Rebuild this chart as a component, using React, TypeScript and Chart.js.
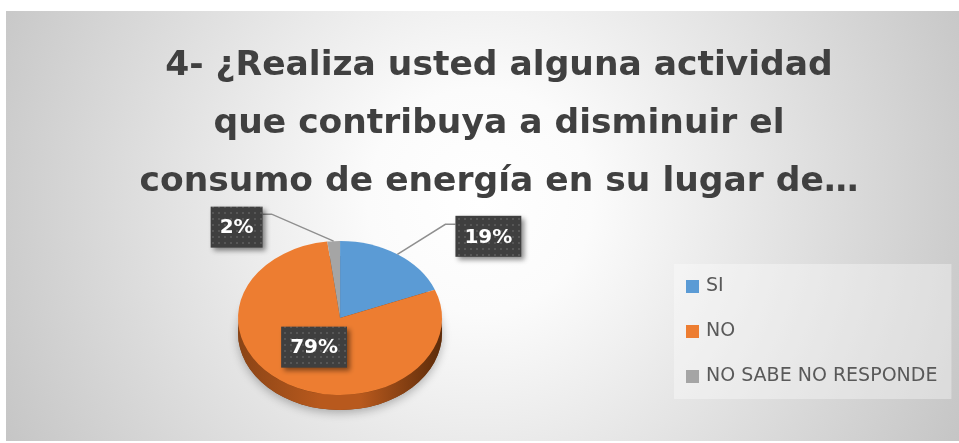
import React, { useEffect, useRef } from "react";
import { Chart, registerables } from "chart.js";

Chart.register(...registerables);

// ---- data ----
const titleLines = [
  "4- ¿Realiza usted alguna actividad",
  "que contribuya a disminuir el",
  "consumo de energía en su lugar de…",
];
const categories = ["SI", "NO", "NO SABE NO RESPONDE"];
const percentages = [19, 79, 2];

// ---- style ----
const sliceColors = ["#5B9BD5", "#ED7D31", "#A5A5A5"];
const sideColors = [
  ["#2c5a86", "#4a86bf", "#1f4266"],
  ["#8a4416", "#b8591d", "#5c2b0a"],
  ["#5a5a5a", "#7f7f7f", "#444444"],
];
const FONT = "'DejaVu Sans'";
const LEGEND_SIZE = 19;
const LEGEND_PAD = 26;
const TILT = 0.755;
const DEPTH = 15;
// label placement relative to the slice anchor point (style only)
const labelPlacement = [
  { radial: 1, elbow: [48, -30], box: [91, -18] },
  { radial: 0.5, elbow: null, box: [0, -4] },
  { radial: 1, elbow: [-62, -27], box: [-97, -14] },
];

function makePattern(ctx: CanvasRenderingContext2D) {
  const c = document.createElement("canvas");
  c.width = 6;
  c.height = 6;
  const p = c.getContext("2d")!;
  p.fillStyle = "#3f3f3f";
  p.fillRect(0, 0, 6, 6);
  p.fillStyle = "#565656";
  p.fillRect(2, 2, 2, 2);
  return ctx.createPattern(c, "repeat")!;
}

function makeMarker(color: string, w: number) {
  const c = document.createElement("canvas");
  c.width = w;
  c.height = 13;
  const p = c.getContext("2d")!;
  p.fillStyle = color;
  p.fillRect(w - 13, 0, 13, 13);
  return c;
}

const pie3dPlugin = {
  id: "pie3d",
  beforeDraw(chart: any) {
    const { ctx, width, height } = chart;
    ctx.save();
    ctx.fillStyle = "#ffffff";
    ctx.fillRect(0, 0, width, height);
    const g = ctx.createRadialGradient(480, 200, 0, 480, 200, 560);
    g.addColorStop(0, "#ffffff");
    g.addColorStop(0.2, "#fbfbfb");
    g.addColorStop(1, "#c2c2c2");
    ctx.fillStyle = g;
    ctx.fillRect(6, 11, width - 6, 430);
    const lg = chart.legend;
    if (lg && lg.legendHitBoxes && lg.legendHitBoxes.length) {
      const hb = lg.legendHitBoxes;
      const first = hb[0];
      const last = hb[hb.length - 1];
      const W = lg.options.labels.pointStyleWidth;
      const x0 = first.left + W + 2.5 - 13 - 12;
      const y0 = first.top - 12.5;
      const y1 = last.top + last.height + 13.5;
      let right = 0;
      hb.forEach((h: any) => (right = Math.max(right, h.left + h.width)));
      right += 14;
      ctx.fillStyle = "rgba(255,255,255,0.35)";
      ctx.fillRect(x0, y0, right - x0, y1 - y0);
    }
    ctx.restore();
  },
  beforeDatasetsDraw(chart: any) {
    const { ctx } = chart;
    const arcs = chart.getDatasetMeta(0).data;
    if (!arcs.length) return;
    const { x: cx, y: cy, outerRadius: R } = arcs[0];
    ctx.save();
    ctx.shadowColor = "rgba(0,0,0,0.28)";
    ctx.shadowBlur = 10;
    ctx.shadowOffsetY = 3;
    ctx.fillStyle = "#7a3c12";
    ctx.beginPath();
    ctx.ellipse(cx, cy + DEPTH, R, R * TILT, 0, 0, Math.PI * 2);
    ctx.fill();
    ctx.shadowColor = "transparent";
    ctx.shadowBlur = 0;
    ctx.shadowOffsetY = 0;
    arcs.forEach((arc: any, i: number) => {
      const s = arc.startAngle;
      const e = arc.endAngle;
      const sc = sideColors[i];
      const grad = ctx.createLinearGradient(cx - R, 0, cx + R, 0);
      grad.addColorStop(0, sc[0]);
      grad.addColorStop(0.4, sc[1]);
      grad.addColorStop(0.6, sc[1]);
      grad.addColorStop(1, sc[2]);
      for (const off of [-2 * Math.PI, 0, 2 * Math.PI]) {
        const a = Math.max(s, off);
        const b = Math.min(e, off + Math.PI);
        if (b <= a) continue;
        ctx.beginPath();
        ctx.ellipse(cx, cy, R, R * TILT, 0, a, b, false);
        ctx.lineTo(cx + R * Math.cos(b), cy + DEPTH + R * TILT * Math.sin(b));
        ctx.ellipse(cx, cy + DEPTH, R, R * TILT, 0, b, a, true);
        ctx.closePath();
        ctx.fillStyle = grad;
        ctx.fill();
      }
    });
    ctx.restore();
    ctx.save();
    ctx.translate(cx, cy);
    ctx.scale(1, TILT);
    ctx.translate(-cx, -cy);
  },
  afterDatasetsDraw(chart: any) {
    const { ctx } = chart;
    const arcs = chart.getDatasetMeta(0).data;
    if (!arcs.length) return;
    ctx.restore();
    const pattern = makePattern(ctx);
    ctx.save();
    arcs.forEach((arc: any, i: number) => {
      const lp = labelPlacement[i];
      const mid = (arc.startAngle + arc.endAngle) / 2;
      const r = arc.outerRadius * lp.radial;
      const ax = arc.x + r * Math.cos(mid);
      const ay = arc.y + r * TILT * Math.sin(mid);
      const text = percentages[i] + "%";
      ctx.font = `bold 20px ${FONT}`;
      const tw = ctx.measureText(text).width;
      const bw = tw + 18;
      const bh = 41;
      const bcx = ax + lp.box[0];
      const bcy = ay + lp.box[1];
      const bx = bcx - bw / 2;
      const by = bcy - bh / 2;
      if (lp.elbow) {
        const ex = ax + lp.elbow[0];
        const ey = ay + lp.elbow[1];
        const edgeX = lp.elbow[0] > 0 ? bx : bx + bw;
        ctx.strokeStyle = "#8f8f8f";
        ctx.lineWidth = 1.5;
        ctx.beginPath();
        ctx.moveTo(ax, ay);
        ctx.lineTo(ex, ey);
        ctx.lineTo(edgeX, ey);
        ctx.stroke();
      }
      ctx.save();
      ctx.shadowColor = "rgba(0,0,0,0.45)";
      ctx.shadowBlur = 5;
      ctx.shadowOffsetX = 3;
      ctx.shadowOffsetY = 3;
      ctx.fillStyle = pattern;
      ctx.fillRect(bx, by, bw, bh);
      ctx.restore();
      ctx.fillStyle = "#ffffff";
      ctx.textAlign = "center";
      ctx.textBaseline = "middle";
      ctx.fillText(text, bcx, bcy + 1);
    });
    ctx.restore();
  },
};

export default function App() {
  const ref = useRef<HTMLCanvasElement>(null);
  useEffect(() => {
    const canvas = ref.current!;
    const mctx = canvas.getContext("2d")!;
    mctx.font = `${LEGEND_SIZE}px ${FONT}`;
    let textW = 0;
    categories.forEach((c) => (textW = Math.max(textW, mctx.measureText(c).width)));
    const markerW = Math.round(272.5 - textW);
    const padRight = 243 - textW;
    const padLeft = padRight + 39;
    const markers = sliceColors.map((c) => makeMarker(c, markerW + 5));

    const chart = new Chart(canvas, {
      type: "pie",
      data: {
        labels: categories,
        datasets: [
          {
            data: percentages,
            backgroundColor: sliceColors,
            borderWidth: 0,
            clip: false as any,
            radius: 102,
          } as any,
        ],
      },
      options: {
        animation: false,
        responsive: false,
        events: [],
        layout: { padding: { top: 0, left: padLeft, right: padRight, bottom: 31.5 } },
        plugins: {
          title: {
            display: true,
            text: titleLines,
            color: "#404040",
            font: { family: FONT, size: 34.5, weight: "bold", lineHeight: 58 / 34.5 },
            padding: { top: 37, bottom: 13.5 },
          },
          legend: {
            position: "right",
            align: "end",
            labels: {
              usePointStyle: true,
              pointStyleWidth: markerW,
              padding: LEGEND_PAD,
              color: "#595959",
              font: { family: FONT, size: LEGEND_SIZE },
              generateLabels(ch: any) {
                const base = (Chart as any).overrides.doughnut.plugins.legend.labels.generateLabels(ch);
                return base.map((it: any, i: number) => ({ ...it, pointStyle: markers[i] }));
              },
            } as any,
          },
          tooltip: { enabled: false },
        },
      },
      plugins: [pie3dPlugin],
    });
    return () => chart.destroy();
  }, []);
  return (
    <div style={{ position: "fixed", left: 0, top: 0, width: 959, height: 443 }}>
      <canvas ref={ref} width={959} height={443} style={{ display: "block" }} />
    </div>
  );
}
